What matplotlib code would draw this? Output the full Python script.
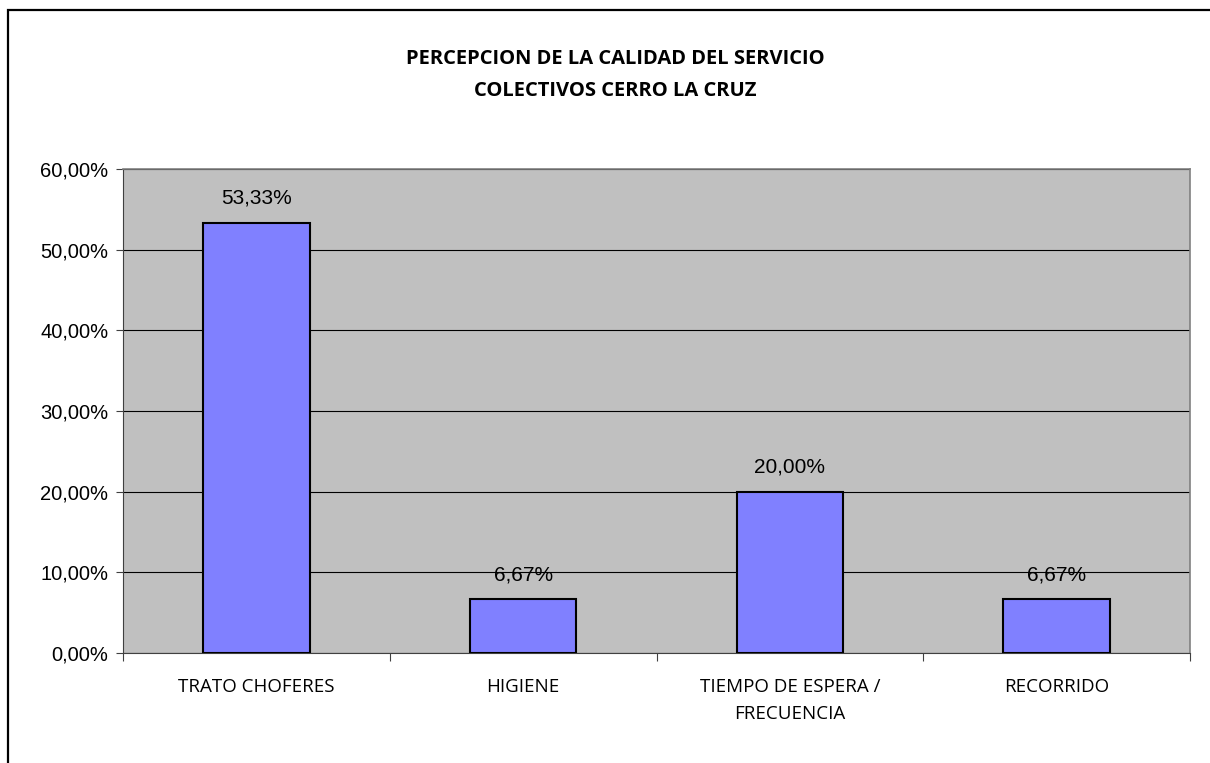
import matplotlib
matplotlib.use("Agg")
import matplotlib.pyplot as plt
from matplotlib.patches import Rectangle
from matplotlib.ticker import FixedLocator, FuncFormatter

categories = ["TRATO CHOFERES", "HIGIENE", "TIEMPO DE ESPERA /\nFRECUENCIA", "RECORRIDO"]
values = [53.33, 6.67, 20.00, 6.67]
yticks = [0, 10, 20, 30, 40, 50, 60]
title = "PERCEPCION DE LA CALIDAD DEL SERVICIO\nCOLECTIVOS CERRO LA CRUZ"

W, H = 1210, 763
fig = plt.figure(figsize=(W / 100, H / 100), dpi=100)
fig.patch.set_facecolor("white")

# outer chart frame (runs past the right and bottom edges)
frame = Rectangle((8 / W, -0.5), 2.0, 1 - 10 / H + 0.5, transform=fig.transFigure,
                  fill=False, edgecolor="black", linewidth=1.6, clip_on=False)
fig.patches.append(frame)

ax = fig.add_axes([123 / W, 1 - 653 / H, (1190 - 123) / W, (653 - 169) / H])
ax.set_facecolor("#C0C0C0")

x = list(range(len(categories)))
ax.bar(x, values, width=0.4, color="#8080FF", edgecolor="black", linewidth=1.5, zorder=3)

for xi, v in zip(x, values):
    ax.annotate(f"{v:.2f}%".replace(".", ","), (xi, v), xytext=(0, 17.5),
                textcoords="offset points", ha="center", va="center",
                fontsize=15, family="Liberation Sans", zorder=4)

ax.set_xlim(-0.5, len(categories) - 0.5)
ax.set_ylim(0, 60)
ax.yaxis.set_major_locator(FixedLocator(yticks))
ax.yaxis.set_major_formatter(FuncFormatter(lambda v, p: f"{v:.2f}%".replace(".", ",")))
ax.grid(axis="y", color="black", linewidth=0.8, zorder=1)
ax.set_axisbelow(True)

# category ticks sit on the boundaries, labels centred under bars
ax.set_xticks([i - 0.5 for i in range(len(categories) + 1)])
ax.set_xticklabels([])
ax.set_xticks(x, minor=True)
ax.set_xticklabels(categories, minor=True, fontsize=13.5, family="Open Sans",
                   linespacing=1.65)
ax.tick_params(axis="x", which="minor", length=0, pad=18)
ax.tick_params(axis="x", which="major", length=6, color="#404040")
ax.tick_params(axis="y", length=5, color="#404040", labelsize=14.5, pad=5.5)
for lab in ax.get_yticklabels():
    lab.set_family("Liberation Sans")

for side in ["top", "right"]:
    ax.spines[side].set_color("#808080")
    ax.spines[side].set_linewidth(1.2)
ax.spines["left"].set_color("#404040")
ax.spines["bottom"].set_color("#404040")

fig.text(615 / W, 1 - 74.5 / H, title, ha="center", va="center", fontsize=14.5,
         fontweight="bold", family="Open Sans", linespacing=1.8)

fig.savefig("out.png", dpi=100)
